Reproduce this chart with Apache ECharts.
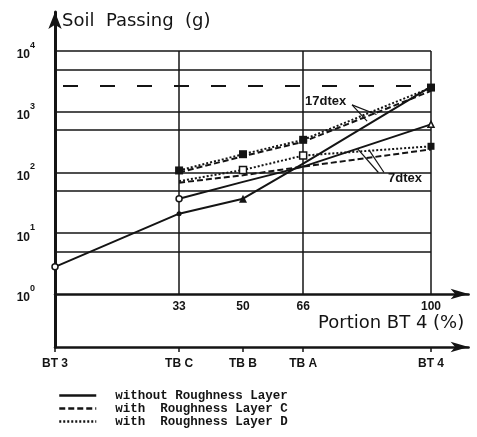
<!DOCTYPE html>
<html><head><meta charset="utf-8">
<script src="https://cdn.jsdelivr.net/npm/echarts@6/dist/echarts.min.js"></script>
<style>html,body{margin:0;padding:0;background:#fff}#c{width:477px;height:437px}</style>
</head><body><div id="c"></div>
<script>
// ---- data ----
const xPositions = [0, 33, 50, 66, 100];
const xTickValues = [33, 50, 66, 100];
const materialLabels = ['BT 3', 'TB C', 'TB B', 'TB A', 'BT 4'];
const yGridValues = [5, 10, 50, 100, 500, 1000, 5000, 10000];
const xGridValues = [33, 66, 100];
const solid17 = [2.8, 21, 37, 140, 2600];
const solid7 = [null, 37, 70, 125, 620];
const dashC17 = [null, 100, 185, 320, 2200];
const dotD17 = [null, 108, 200, 345, 2500];
const dashC7 = [null, 68, 90, 125, 240];
const dotD7 = [null, 72, 110, 190, 270];
const refLevel = 2700;
const seriesNames = ['without Roughness Layer', 'with  Roughness Layer C', 'with  Roughness Layer D'];
const lead17 = [[[79, 1300], [83, 700]], [[79, 1300], [85.5, 900]]];
const lead7 = [[[86, 100], [80.5, 245]], [[87.5, 100], [83.5, 235]]];

// ---- helpers ----
const INK = '#141414';
function pairs(arr) { return xPositions.map((x, i) => arr[i] == null ? null : [x, arr[i]]).filter(p => p); }
function pick(arr, idxs) { return idxs.map(i => [xPositions[i], arr[i]]); }
const SOLID = { color: INK, width: 2, type: 'solid' };
const DASH = { color: INK, width: 2, type: [6, 3] };
const DOT = { color: INK, width: 2, type: [2, 2] };

function lineSeries(name, arr, style) {
  return { type: 'line', name, data: pairs(arr), symbol: 'none', lineStyle: style, itemStyle: { color: INK },
    z: 5, animation: false, silent: true };
}
function markerSeries(data, symbol, size, filled) {
  return { type: 'scatter', data, symbol, symbolSize: size, z: 6, silent: true, animation: false,
    itemStyle: { color: filled ? INK : '#fff', borderColor: INK, borderWidth: filled ? 0 : 1.5, opacity: 1 } };
}

const gridLines = [];
yGridValues.forEach(v => gridLines.push([{ coord: [0, v] }, { coord: [100, v] }]));
xGridValues.forEach(v => gridLines.push([{ coord: [v, 1] }, { coord: [v, 10000] }]));

const chart = echarts.init(document.getElementById('c'), null, { renderer: 'canvas' });
chart.setOption({
  animation: false,
  backgroundColor: '#fff',
  title: [
    { text: 'Soil  Passing  (g)', left: 62, top: 12, padding: 0,
      textStyle: { fontSize: 18, fontWeight: 'normal', fontFamily: 'DejaVu Sans', color: INK } },
    { text: 'Portion BT 4 (%)', left: 318, top: 314, padding: 0,
      textStyle: { fontSize: 18, fontWeight: 'normal', fontFamily: 'DejaVu Sans', color: INK } }
  ],
  grid: { left: 55, right: 8.4, top: 12, bottom: 90, containLabel: false },
  legend: {
    data: seriesNames, orient: 'vertical', left: 58, top: 389, padding: 0,
    itemWidth: 37, itemHeight: 11, itemGap: 0, selectedMode: false,
    itemStyle: { color: 'rgba(0,0,0,0)', borderWidth: 0, opacity: 0 },
    lineStyle: { width: 2.5 },
    textStyle: { fontFamily: 'Liberation Mono', fontWeight: 'bold', fontSize: 12.5, lineHeight: 11, color: INK, padding: [0, 0, 0, 14] }
  },
  xAxis: [
    { type: 'value', min: 0, max: 110, position: 'bottom',
      axisLine: { show: true, onZero: false, lineStyle: { color: INK, width: 2.5 }, symbol: ['none', 'arrow'], symbolSize: [8, 18] },
      axisTick: { show: true, length: 5, customValues: xPositions, lineStyle: { color: INK, width: 1.5 } },
      axisLabel: { customValues: xPositions, formatter: v => materialLabels[xPositions.indexOf(v)] || '',
        margin: 11, fontWeight: 'bold', fontSize: 12, fontFamily: 'Liberation Sans', color: INK },
      splitLine: { show: false } },
    { type: 'value', min: 0, max: 110, position: 'bottom', offset: -53,
      axisLine: { show: true, onZero: false, lineStyle: { color: INK, width: 2.5 }, symbol: ['none', 'arrow'], symbolSize: [8, 18] },
      axisTick: { show: false },
      axisLabel: { customValues: xTickValues, margin: 7, fontWeight: 'bold', fontSize: 12, fontFamily: 'Liberation Sans', color: INK },
      splitLine: { show: false } }
  ],
  yAxis: {
    type: 'log', logBase: 10, min: 0.134, max: 43850,
    axisLine: { show: true, onZero: false, lineStyle: { color: INK, width: 3 }, symbol: ['none', 'arrow'], symbolSize: [10, 17] },
    axisTick: { show: false },
    splitLine: { show: false },
    axisLabel: {
      margin: 20,
      formatter: v => {
        const l = Math.log10(v);
        const e = Math.round(l);
        if (Math.abs(l - e) > 0.01 || e < 0) return '';
        return '{b|10}{s|' + e + '}';
      },
      rich: {
        b: { fontSize: 12, fontWeight: 'bold', fontFamily: 'Liberation Sans', color: INK, lineHeight: 20, verticalAlign: 'bottom' },
        s: { fontSize: 9, fontWeight: 'bold', fontFamily: 'Liberation Sans', color: INK, lineHeight: 20, verticalAlign: 'top' }
      }
    }
  },
  graphic: [
    { type: 'text', left: 305, top: 95, style: { text: '17dtex', font: 'bold 13px "Liberation Sans"', fill: INK } },
    { type: 'text', left: 388, top: 172, style: { text: '7dtex', font: 'bold 13px "Liberation Sans"', fill: INK } }
  ],
  series: [
    lineSeries(seriesNames[0], solid17, SOLID),
    lineSeries(seriesNames[0], solid7, SOLID),
    lineSeries(seriesNames[1], dashC17, DASH),
    lineSeries(seriesNames[1], dashC7, DASH),
    lineSeries(seriesNames[2], dotD17, DOT),
    lineSeries(seriesNames[2], dotD7, DOT),
    { type: 'line', name: 'frame', data: [], silent: true, animation: false,
      markLine: { silent: true, symbol: ['none', 'none'], label: { show: false }, animation: false,
        lineStyle: { color: INK, width: 1.5, type: 'solid' }, emphasis: { disabled: true },
        data: gridLines.concat([[{ coord: [0, refLevel], lineStyle: { type: [15, 22], width: 2, dashOffset: -8 } }, { coord: [100, refLevel] }]])
          .concat(lead17.concat(lead7).map(p => [{ coord: p[0], lineStyle: { width: 1.2 } }, { coord: p[1] }])) } },
    markerSeries(pick(dotD17, [1, 2, 3, 4]), 'rect', 8, true),
    markerSeries(pick(dotD7, [2, 3]), 'rect', 7, false),
    markerSeries(pick(dotD7, [4]), 'rect', 7, true),
    markerSeries(pick(solid17, [0]).concat(pick(solid7, [1])), 'circle', 6, false),
    markerSeries(pick(solid17, [1]), 'circle', 5, true),
    markerSeries(pick(solid17, [2]), 'triangle', 8, true),
    markerSeries(pick(solid7, [4]), 'triangle', 6, false)
  ]
});
</script></body></html>
